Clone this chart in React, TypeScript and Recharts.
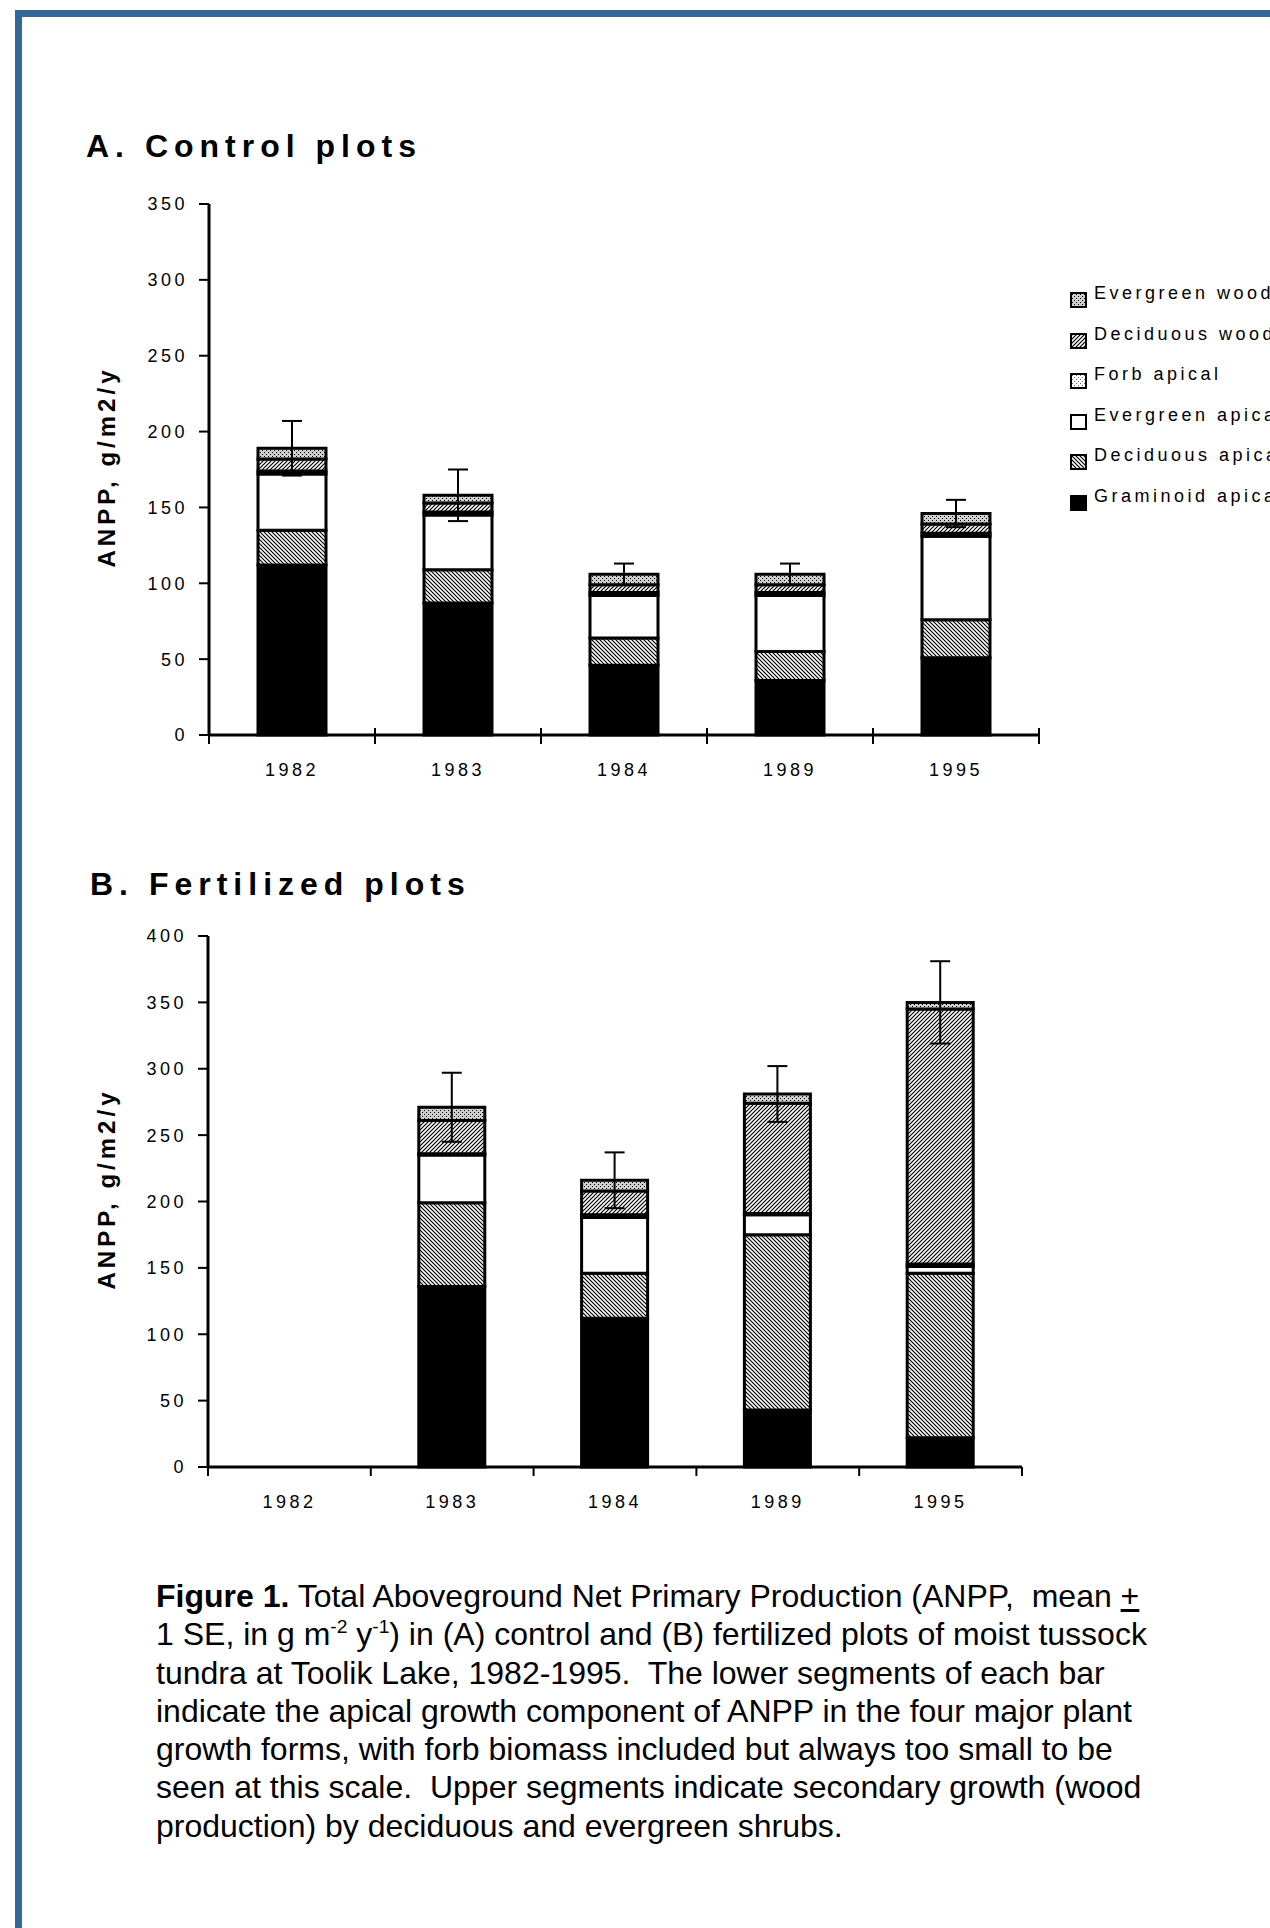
import { BarChart, Bar, XAxis, YAxis, ErrorBar, Legend } from 'recharts';

const FONT = '"Liberation Sans", Arial, Helvetica, sans-serif';

const YEARS = ['1982', '1983', '1984', '1989', '1995'];

// A. control plots (g/m2/y), segments listed bottom to top
const ctrlGraminoid = [112, 87, 46, 36, 51];
const ctrlDecApical = [23, 22, 18, 19, 25];
const ctrlEvgApical = [37, 36, 28, 37, 55];
const ctrlForb = [2, 2, 2, 2, 2];
const ctrlDecWood = [8, 6, 5, 5, 6];
const ctrlEvgWood = [7, 5, 7, 7, 7];
const ctrlSE = [18, 17, 7, 7, 9];

// B. fertilized plots, nothing measured in 1982
const fertGraminoid = [null, 136, 112, 43, 22];
const fertDecApical = [null, 63, 34, 132, 124];
const fertEvgApical = [null, 36, 42, 15, 5];
const fertForb = [null, 1, 2, 1, 2];
const fertDecWood = [null, 25, 18, 83, 192];
const fertEvgWood = [null, 10, 8, 7, 5];
const fertSE = [null, 26, 21, 21, 31];

const ctrlTicks = [0, 50, 100, 150, 200, 250, 300, 350];
const fertTicks = [0, 50, 100, 150, 200, 250, 300, 350, 400];

const SERIES = [
  { key: 'gram', name: 'Graminoid apical', fill: '#000' },
  { key: 'decAp', name: 'Deciduous apical', fill: 'url(#pDecAp)' },
  { key: 'evgAp', name: 'Evergreen apical', fill: '#fff' },
  { key: 'forb', name: 'Forb apical', fill: 'url(#pForb)' },
  { key: 'decWood', name: 'Deciduous wood', fill: 'url(#pDecWood)' },
  { key: 'evgWood', name: 'Evergreen wood', fill: 'url(#pEvgWood)' },
];

type Vals = (number | null)[];

function buildRows(parts: Vals[], se: Vals) {
  return YEARS.map((year, i) => {
    const row: Record<string, string | number | null> = { year, err: se[i] };
    SERIES.forEach((s, k) => {
      row[s.key] = parts[k][i];
    });
    return row;
  });
}

const controlRows = buildRows(
  [ctrlGraminoid, ctrlDecApical, ctrlEvgApical, ctrlForb, ctrlDecWood, ctrlEvgWood],
  ctrlSE
);
const fertRows = buildRows(
  [fertGraminoid, fertDecApical, fertEvgApical, fertForb, fertDecWood, fertEvgWood],
  fertSE
);

function Patterns() {
  return (
    <svg width={0} height={0} style={{ position: 'absolute' }}>
      <defs>
        <pattern id="pDecAp" width={4} height={4} patternUnits="userSpaceOnUse">
          <rect width={4} height={4} fill="#fff" />
          <path d="M-1,-1 L5,5 M3,-1 L5,1 M-1,3 L1,5" stroke="#000" strokeWidth={1.2} />
        </pattern>
        <pattern id="pDecWood" width={4} height={4} patternUnits="userSpaceOnUse">
          <rect width={4} height={4} fill="#fff" />
          <path d="M-1,5 L5,-1 M-1,1 L1,-1 M3,5 L5,3" stroke="#000" strokeWidth={1.2} />
        </pattern>
        <pattern id="pEvgWood" width={4} height={4} patternUnits="userSpaceOnUse">
          <rect width={4} height={4} fill="#cfcfcf" />
          <rect x={0} y={0} width={1} height={1} fill="#000" />
          <rect x={2} y={2} width={1} height={1} fill="#000" />
        </pattern>
        <pattern id="pForb" width={4} height={4} patternUnits="userSpaceOnUse">
          <rect width={4} height={4} fill="#fff" />
          <rect x={0} y={0} width={1} height={1} fill="#666" />
          <rect x={2} y={2} width={1} height={1} fill="#666" />
        </pattern>
      </defs>
    </svg>
  );
}

// category label plus the tick marks at the band edges
function CatTick(props: any) {
  const { x, y, payload, cross } = props;
  const half = payload?.offset ?? 0;
  const isLast = payload?.value === YEARS[YEARS.length - 1];
  const mark = (mx: number) => (
    <line x1={mx} x2={mx} y1={cross ? y - 7 : y} y2={y + 9} stroke="#000" strokeWidth={2} />
  );
  return (
    <g>
      {mark(x - half)}
      {isLast && mark(x + half)}
      <text
        x={x}
        y={y + 35}
        dy="0.35em"
        textAnchor="middle"
        fill="#000"
        fontSize={18}
        fontFamily={FONT}
        letterSpacing={3.5}
      >
        {payload?.value}
      </text>
    </g>
  );
}

function LegendBox({ payload }: { payload?: any[] }) {
  const order = (it: any) => SERIES.findIndex((s) => s.key === it.dataKey);
  const items = [...(payload ?? [])].sort((a, b) => order(b) - order(a));
  return (
    <div style={{ fontFamily: FONT }}>
      {items.map((it) => (
        <div key={it.value} style={{ position: 'relative', height: 40.6 }}>
          <svg width={18} height={16} style={{ position: 'absolute', left: 0, top: 19 }}>
            <rect x={1} y={1} width={15} height={14} fill={it.color} stroke="#000" strokeWidth={2} />
          </svg>
          <span
            style={{
              position: 'absolute',
              left: 24,
              top: 0,
              lineHeight: '40.6px',
              fontSize: 18,
              letterSpacing: 3.5,
              whiteSpace: 'nowrap',
              color: '#000',
            }}
          >
            {it.value}
          </span>
        </div>
      ))}
    </div>
  );
}

const tickFont = { fill: '#000', fontSize: 18, fontFamily: FONT, letterSpacing: 3.5 };
const frameLine = { stroke: '#000', strokeWidth: 3 };

function Panel(props: {
  data: any[];
  yMax: number;
  yTicks: number[];
  height: number;
  margin: { top: number; right: number; bottom: number; left: number };
  yWidth: number;
  barSize: number;
  cross: boolean;
  withLegend?: boolean;
}) {
  const { data, yMax, yTicks, height, margin, yWidth, barSize, cross, withLegend } = props;
  return (
    <BarChart width={1270} height={height} data={data} margin={margin} barSize={barSize}>
      <XAxis
        xAxisId="cat"
        dataKey="year"
        height={30}
        axisLine={frameLine}
        tickLine={false}
        tickSize={0}
        tickMargin={0}
        interval={0}
        tick={(p: any) => <CatTick {...p} cross={cross} />}
      />
      <XAxis xAxisId="top" orientation="top" dataKey="year" height={0} tick={false} tickLine={false} axisLine={frameLine} />
      <YAxis
        domain={[0, yMax]}
        ticks={yTicks}
        interval={0}
        width={yWidth}
        axisLine={frameLine}
        tickLine={{ stroke: '#000', strokeWidth: 2 }}
        tickSize={10}
        tickMargin={11}
        tick={tickFont}
      />
      <YAxis yAxisId="r" orientation="right" width={0} domain={[0, yMax]} tick={false} tickLine={false} axisLine={frameLine} />
      {SERIES.map((s) => (
        <Bar
          key={s.key}
          xAxisId="cat"
          dataKey={s.key}
          name={s.name}
          stackId="anpp"
          fill={s.fill}
          stroke="#000"
          strokeWidth={3}
          isAnimationActive={false}
        >
          {s.key === 'evgWood' && <ErrorBar dataKey="err" width={10} stroke="#000" strokeWidth={2} direction="y" />}
        </Bar>
      ))}
      {withLegend && (
        <Legend
          layout="vertical"
          align="center"
          verticalAlign="middle"
          wrapperStyle={{ position: 'absolute', left: 1070, top: 273, width: 200 }}
          content={(p: any) => <LegendBox payload={p.payload} />}
        />
      )}
    </BarChart>
  );
}

const titleStyle = {
  position: 'absolute' as const,
  fontFamily: FONT,
  fontWeight: 700,
  fontSize: 32,
  lineHeight: '32px',
  letterSpacing: 6,
  whiteSpace: 'nowrap' as const,
  color: '#000',
};

function YLabel({ cx, cy }: { cx: number; cy: number }) {
  return (
    <div
      style={{
        position: 'absolute',
        left: cx,
        top: cy,
        transform: 'translate(-50%, -50%) rotate(-90deg)',
        fontFamily: FONT,
        fontWeight: 700,
        fontSize: 24,
        letterSpacing: 4,
        whiteSpace: 'nowrap',
        color: '#000',
      }}
    >
      ANPP, g/m2/y
    </div>
  );
}

const supStyle = { fontSize: '0.6em', verticalAlign: 'super', lineHeight: 0 };

const captionLines = [
  <>
    <b>Figure 1.</b> Total Aboveground Net Primary Production (ANPP,{'  '}mean <u>+</u>
  </>,
  <>
    1 SE, in g m<sup style={supStyle}>-2</sup> y<sup style={supStyle}>-1</sup>) in (A) control and (B) fertilized plots of moist tussock
  </>,
  <>tundra at Toolik Lake, 1982-1995.{'  '}The lower segments of each bar</>,
  <>indicate the apical growth component of ANPP in the four major plant</>,
  <>growth forms, with forb biomass included but always too small to be</>,
  <>seen at this scale.{'  '}Upper segments indicate secondary growth (wood</>,
  <>production) by deciduous and evergreen shrubs.</>,
];

export default function App() {
  return (
    <div
      style={{
        position: 'absolute',
        left: 0,
        top: 0,
        width: 1270,
        height: 1928,
        overflow: 'hidden',
        background: '#fff',
      }}
    >
      <Patterns />
      <div style={{ position: 'absolute', left: 15, top: 10, width: 1255, height: 7, background: '#336699' }} />
      <div style={{ position: 'absolute', left: 15, top: 10, width: 7, height: 1918, background: '#336699' }} />

      <div style={{ position: 'absolute', left: 0, top: 0 }}>
        <Panel
          data={controlRows}
          yMax={350}
          yTicks={ctrlTicks}
          height={800}
          margin={{ top: 204, right: 231, bottom: 35, left: 0 }}
          yWidth={209}
          barSize={68}
          cross
          withLegend
        />
      </div>
      <div style={{ position: 'absolute', left: 0, top: 850 }}>
        <Panel
          data={fertRows}
          yMax={400}
          yTicks={fertTicks}
          height={682}
          margin={{ top: 86, right: 248, bottom: 35, left: 0 }}
          yWidth={208}
          barSize={66}
          cross={false}
        />
      </div>

      <div style={{ ...titleStyle, left: 86, top: 130 }}>A. Control plots</div>
      <div style={{ ...titleStyle, left: 90, top: 868 }}>B. Fertilized plots</div>
      <YLabel cx={107} cy={467} />
      <YLabel cx={107} cy={1189} />

      <div style={{ position: 'absolute', left: 156, top: 1577, fontFamily: FONT, fontSize: 32, color: '#000' }}>
        {captionLines.map((line, i) => (
          <div key={i} style={{ height: 38.3, lineHeight: '38.3px', whiteSpace: 'pre' }}>
            {line}
          </div>
        ))}
      </div>
    </div>
  );
}
